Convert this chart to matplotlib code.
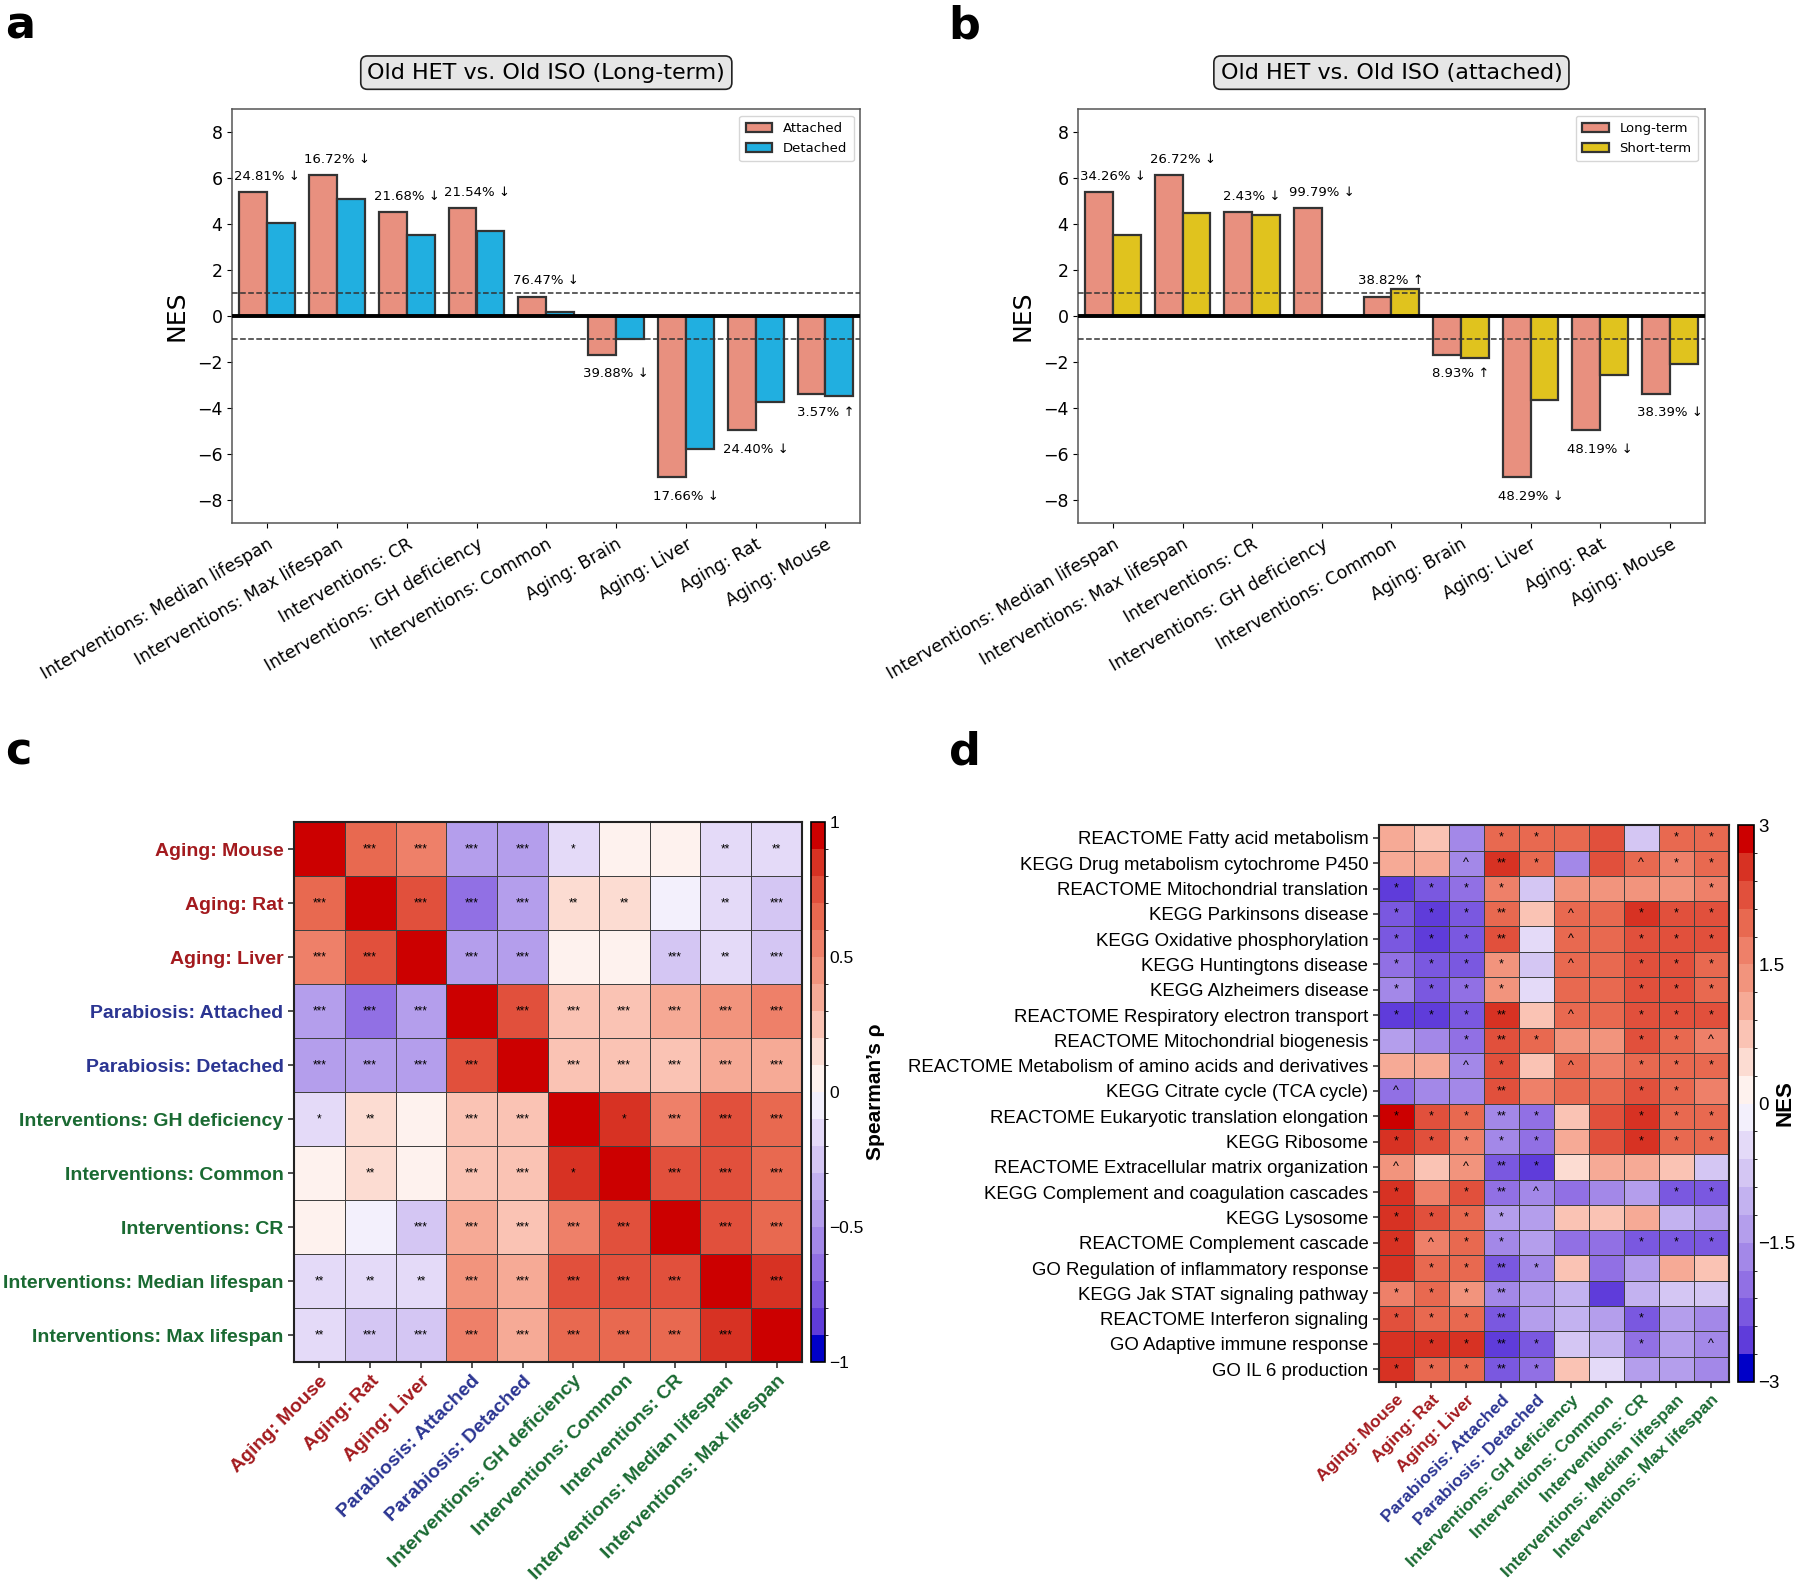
import numpy as np
import matplotlib
matplotlib.use("Agg")
import matplotlib.pyplot as plt
from matplotlib.colors import ListedColormap, BoundaryNorm

# ---------------- data: panels a / b ----------------
bar_categories = ["Interventions: Median lifespan", "Interventions: Max lifespan",
                  "Interventions: CR", "Interventions: GH deficiency",
                  "Interventions: Common", "Aging: Brain", "Aging: Liver",
                  "Aging: Rat", "Aging: Mouse"]
attached_nes = [5.39, 6.12, 4.52, 4.70, 0.85, -1.68, -7.00, -4.96, -3.36]
detached_nes = [4.05, 5.10, 3.54, 3.69, 0.20, -1.01, -5.76, -3.75, -3.48]
pct_change_a = ["24.81% ↓", "16.72% ↓", "21.68% ↓", "21.54% ↓", "76.47% ↓",
                "39.88% ↓", "17.66% ↓", "24.40% ↓", "3.57% ↑"]
long_term_nes = [5.39, 6.12, 4.52, 4.70, 0.85, -1.68, -7.00, -4.96, -3.36]
short_term_nes = [3.54, 4.48, 4.41, 0.01, 1.18, -1.83, -3.62, -2.57, -2.07]
pct_change_b = ["34.26% ↓", "26.72% ↓", "2.43% ↓", "99.79% ↓", "38.82% ↑",
                "8.93% ↑", "48.29% ↓", "48.19% ↓", "38.39% ↓"]

# ---------------- data: panel c ----------------
corr_labels = ["Aging: Mouse", "Aging: Rat", "Aging: Liver",
               "Parabiosis: Attached", "Parabiosis: Detached",
               "Interventions: GH deficiency", "Interventions: Common",
               "Interventions: CR", "Interventions: Median lifespan",
               "Interventions: Max lifespan"]
spearman_rho = [
    [1.00, 0.65, 0.55, -0.45, -0.45, -0.12, 0.03, 0.02, -0.15, -0.15],
    [0.65, 1.00, 0.75, -0.62, -0.45, 0.15, 0.15, -0.05, -0.15, -0.28],
    [0.55, 0.75, 1.00, -0.48, -0.45, 0.05, 0.05, -0.25, -0.15, -0.28],
    [-0.45, -0.62, -0.48, 1.00, 0.72, 0.25, 0.25, 0.35, 0.42, 0.55],
    [-0.45, -0.45, -0.45, 0.72, 1.00, 0.25, 0.25, 0.25, 0.35, 0.38],
    [-0.12, 0.15, 0.05, 0.25, 0.25, 1.00, 0.82, 0.55, 0.78, 0.65],
    [0.03, 0.15, 0.05, 0.25, 0.25, 0.82, 1.00, 0.78, 0.75, 0.65],
    [0.02, -0.05, -0.25, 0.35, 0.25, 0.55, 0.78, 1.00, 0.72, 0.65],
    [-0.15, -0.15, -0.15, 0.42, 0.35, 0.78, 0.75, 0.72, 1.00, 0.85],
    [-0.15, -0.28, -0.28, 0.55, 0.38, 0.65, 0.65, 0.65, 0.85, 1.00],
]
rho_sig = [
    ["", "***", "***", "***", "***", "*", "", "", "**", "**"],
    ["***", "", "***", "***", "***", "**", "**", "", "**", "***"],
    ["***", "***", "", "***", "***", "", "", "***", "**", "***"],
    ["***", "***", "***", "", "***", "***", "***", "***", "***", "***"],
    ["***", "***", "***", "***", "", "***", "***", "***", "***", "***"],
    ["*", "**", "", "***", "***", "", "*", "***", "***", "***"],
    ["", "**", "", "***", "***", "*", "", "***", "***", "***"],
    ["", "", "***", "***", "***", "***", "***", "", "***", "***"],
    ["**", "**", "**", "***", "***", "***", "***", "***", "", "***"],
    ["**", "***", "***", "***", "***", "***", "***", "***", "***", ""],
]

# ---------------- data: panel d ----------------
pathways = ["REACTOME Fatty acid metabolism", "KEGG Drug metabolism cytochrome P450",
            "REACTOME Mitochondrial translation", "KEGG Parkinsons disease",
            "KEGG Oxidative phosphorylation", "KEGG Huntingtons disease",
            "KEGG Alzheimers disease", "REACTOME Respiratory electron transport",
            "REACTOME Mitochondrial biogenesis",
            "REACTOME Metabolism of amino acids and derivatives",
            "KEGG Citrate cycle (TCA cycle)", "REACTOME Eukaryotic translation elongation",
            "KEGG Ribosome", "REACTOME Extracellular matrix organization",
            "KEGG Complement and coagulation cascades", "KEGG Lysosome",
            "REACTOME Complement cascade", "GO Regulation of inflammatory response",
            "KEGG Jak STAT signaling pathway", "REACTOME Interferon signaling",
            "GO Adaptive immune response", "GO IL 6 production"]
pathway_nes = [
    [1.05, 0.75, -1.65, 1.95, 1.95, 1.90, 2.20, -0.75, 1.90, 1.90],
    [1.05, 1.05, -1.65, 2.50, 1.95, -1.65, 2.20, 1.90, 1.70, 1.90],
    [-2.55, -2.25, -2.00, 1.75, -0.75, 1.35, 1.35, 1.30, 1.45, 1.75],
    [-2.25, -2.50, -2.25, 1.95, 0.70, 1.95, 2.00, 2.40, 2.25, 2.20],
    [-2.30, -2.50, -2.25, 2.10, -0.45, 2.05, 2.05, 2.25, 2.25, 2.25],
    [-1.95, -2.35, -2.20, 1.40, -0.75, 1.95, 1.80, 2.25, 2.20, 2.05],
    [-1.65, -2.30, -1.95, 1.40, -0.45, 1.80, 1.80, 2.25, 2.20, 2.05],
    [-2.55, -2.50, -2.30, 2.55, 0.85, 1.95, 1.95, 2.35, 2.25, 2.20],
    [-1.35, -1.65, -1.90, 2.15, 1.85, 1.35, 1.35, 2.20, 1.95, 1.75],
    [1.05, 1.05, -1.60, 2.15, 0.85, 1.80, 1.65, 1.95, 1.85, 1.85],
    [-1.90, -1.60, -1.60, 2.15, 1.65, 1.80, 1.95, 2.25, 1.80, 1.65],
    [2.85, 2.15, 1.85, -1.60, -2.00, 0.80, 2.25, 2.55, 1.95, 1.95],
    [2.55, 2.15, 1.65, -1.65, -1.95, 1.15, 2.30, 2.55, 1.95, 1.95],
    [1.40, 0.75, 1.40, -2.30, -2.50, 0.50, 0.95, 0.95, 0.65, -0.80],
    [2.50, 1.60, 2.20, -2.10, -1.70, -1.90, -1.65, -1.40, -2.25, -2.40],
    [2.55, 2.15, 1.95, -1.50, -1.45, 0.85, 0.85, 1.05, -1.05, -1.30],
    [2.45, 1.60, 2.05, -1.60, -1.45, -2.00, -2.00, -2.30, -2.30, -2.30],
    [2.40, 1.95, 1.80, -2.20, -1.80, 0.80, -1.85, -1.45, 1.10, 0.75],
    [1.60, 1.95, 1.40, -1.80, -1.35, -1.00, -2.65, -1.05, -0.80, -0.85],
    [2.30, 2.05, 1.95, -2.25, -1.40, -1.15, -1.40, -2.30, -1.50, -1.65],
    [2.65, 2.40, 2.40, -2.50, -2.20, -0.80, -1.00, -1.90, -1.40, -1.60],
    [2.45, 1.95, 1.95, -2.40, -2.00, 0.80, -0.50, -1.35, -1.35, -1.55],
]
pathway_sig = [
    ["", "", "", "*", "*", "", "", "", "*", "*"],
    ["", "", "^", "**", "*", "", "", "^", "*", "*"],
    ["*", "*", "*", "*", "", "", "", "", "", "*"],
    ["*", "*", "*", "**", "", "^", "", "*", "*", "*"],
    ["*", "*", "*", "**", "", "^", "", "*", "*", "*"],
    ["*", "*", "*", "*", "", "^", "", "*", "*", "*"],
    ["*", "*", "*", "*", "", "", "", "*", "*", "*"],
    ["*", "*", "*", "**", "", "^", "", "*", "*", "*"],
    ["", "", "*", "**", "*", "", "", "*", "*", "^"],
    ["", "", "^", "*", "", "^", "", "*", "*", "*"],
    ["^", "", "", "**", "", "", "", "*", "*", ""],
    ["*", "*", "*", "**", "*", "", "", "*", "*", "*"],
    ["*", "*", "*", "*", "*", "", "", "*", "*", "*"],
    ["^", "", "^", "**", "*", "", "", "", "", ""],
    ["*", "", "*", "**", "^", "", "", "", "*", "*"],
    ["*", "*", "*", "*", "", "", "", "", "", ""],
    ["*", "^", "*", "*", "", "", "", "*", "*", "*"],
    ["", "*", "*", "**", "*", "", "", "", "", ""],
    ["*", "*", "*", "**", "", "", "", "", "", ""],
    ["*", "*", "*", "**", "", "", "", "*", "", ""],
    ["", "*", "*", "**", "*", "", "", "*", "", "^"],
    ["*", "*", "*", "**", "*", "", "", "", "", ""],
]

# ---------------- styles ----------------
group_colors = {"Aging": "#A31A1E", "Parabiosis": "#2B3592", "Interventions": "#1A6A32"}
heat_colors = ["#0000C8", "#5F3CDA", "#7A58E0", "#9170E4", "#A388E8", "#B49EEC",
               "#C3B2F0", "#D4C6F3", "#E4DAF8", "#F3F0FC",
               "#FEF2EE", "#FCDCD2", "#FAC3B4", "#F6AA96", "#F2947D", "#EE8069",
               "#E86950", "#E1503C", "#D73223", "#CC0000"]
cmap = ListedColormap(heat_colors)
cmap.set_over(heat_colors[-1])
cmap.set_under(heat_colors[0])

SALMON = "#E8907F"
BLUE = "#21AFE0"
YELLOW = "#E0C31E"
EDGE = "#333333"

fig = plt.figure(figsize=(18, 15.81), dpi=100)


def bar_panel(ax, title, s1, s2, c2, names, pct):
    x = np.arange(len(bar_categories))
    w = 0.4
    ax.bar(x - w / 2, s1, w, color=SALMON, edgecolor=EDGE, linewidth=1.6, label=names[0], zorder=2)
    ax.bar(x + w / 2, s2, w, color=c2, edgecolor=EDGE, linewidth=1.6, label=names[1], zorder=2)
    ax.axhline(0, color="black", linewidth=2.8, zorder=3)
    ax.axhline(1, color=EDGE, linewidth=1.1, linestyle="--", zorder=4)
    ax.axhline(-1, color=EDGE, linewidth=1.1, linestyle="--", zorder=4)
    for xi, v, t in zip(x, s1, pct):
        y = v + 0.68 if v >= 0 else v - 0.82
        ax.text(xi, y, t, ha="center", va="center", fontsize=9.5)
    ax.set_xlim(-0.5, len(bar_categories) - 0.5)
    ax.set_ylim(-9, 9)
    ax.set_yticks(np.arange(-8, 9, 2))
    ax.set_xticks(x)
    ax.set_xticklabels(bar_categories, rotation=30, ha="right", rotation_mode="anchor", fontsize=12.5)
    ax.tick_params(axis="y", labelsize=12.5)
    ax.tick_params(axis="x", pad=5)
    ax.set_ylabel("NES", fontsize=18, labelpad=6)
    for sp in ax.spines.values():
        sp.set_color("#555555")
        sp.set_linewidth(1.1)
    ax.legend(loc="upper right", fontsize=9.5, frameon=True, borderpad=0.5,
              handlelength=2.0, edgecolor="#cccccc")
    ax.text(0.5, 1.088, title, transform=ax.transAxes, ha="center", va="center", fontsize=16,
            bbox=dict(boxstyle="round,pad=0.3", facecolor="#E6E6E6", edgecolor="#222222", linewidth=1.2))


axa = fig.add_axes([0.129, 0.669, 0.349, 0.262])
bar_panel(axa, "Old HET vs. Old ISO (Long-term)", attached_nes, detached_nes, BLUE,
          ["Attached", "Detached"], pct_change_a)
axb = fig.add_axes([0.599, 0.669, 0.348, 0.262])
bar_panel(axb, "Old HET vs. Old ISO (attached)", long_term_nes, short_term_nes, YELLOW,
          ["Long-term", "Short-term"], pct_change_b)

ARIAL = "Liberation Sans"


def heat_panel(ax, cax, data, sig, rows, cols, vmin, vmax, ticks, ticklabels,
               colored_rows, row_fs, col_fs, ann_fs, cbar_fs):
    data = np.array(data)
    norm = BoundaryNorm(np.linspace(vmin, vmax, 21), cmap.N)
    m = ax.pcolormesh(data, cmap=cmap, norm=norm, edgecolors="#404040", linewidth=0.6)
    nr, nc = data.shape
    ax.set_xlim(0, nc)
    ax.set_ylim(nr, 0)
    for i in range(nr):
        for j in range(nc):
            if sig[i][j]:
                ax.text(j + 0.5, i + 0.5, sig[i][j], ha="center", va="center",
                        fontsize=ann_fs, family=ARIAL, color="black")
    ax.set_xticks(np.arange(nc) + 0.5)
    ax.set_yticks(np.arange(nr) + 0.5)
    xl = ax.set_xticklabels(cols, rotation=45, ha="right", rotation_mode="anchor",
                            fontsize=col_fs, family=ARIAL, fontweight="bold")
    for t, name in zip(xl, cols):
        t.set_color(group_colors[name.split(":")[0]])
    if colored_rows:
        yl = ax.set_yticklabels(rows, fontsize=row_fs, family=ARIAL, fontweight="bold")
        for t, name in zip(yl, rows):
            t.set_color(group_colors[name.split(":")[0]])
    else:
        ax.set_yticklabels(rows, fontsize=row_fs, family=ARIAL)
    ax.tick_params(length=4, width=1.2, color="#333333")
    for sp in ax.spines.values():
        sp.set_linewidth(1.5)
        sp.set_color("#222222")
    cb = fig.colorbar(m, cax=cax, ticks=ticks)
    cb.ax.set_yticklabels(ticklabels, family=ARIAL, fontsize=cbar_fs)
    cb.ax.tick_params(length=0, pad=3)
    cb.outline.set_linewidth(1.2)
    return cb


axc = fig.add_axes([0.1633, 0.1385, 0.2822, 0.3415])
caxc = fig.add_axes([0.4506, 0.1385, 0.0078, 0.3415])
cbc = heat_panel(axc, caxc, spearman_rho, rho_sig, corr_labels, corr_labels, -1, 1,
                 [-1, -0.5, 0, 0.5, 1], ["\u22121", "\u22120.5", "0", "0.5", "1"],
                 True, 14, 14, 8.5, 12.5)
cbc.set_label("Spearman\u2019s \u03c1", family=ARIAL, fontweight="bold", fontsize=15, labelpad=2)

axd = fig.add_axes([0.766, 0.1259, 0.1944, 0.3521])
caxd = fig.add_axes([0.9656, 0.1259, 0.0089, 0.3521])
heat_panel(axd, caxd, pathway_nes, pathway_sig, pathways, corr_labels, -3, 3,
           [-3, -1.5, 0, 1.5, 3], ["\u22123", "\u22121.5", "0", "1.5", "3"],
           False, 13.4, 12.5, 9, 13.5)
fig.text(0.9915, 0.302, "NES", rotation=90, ha="center", va="center", family=ARIAL,
         fontweight="bold", fontsize=16)

for lbl, xx, yy in [("a", 0.003, 0.997), ("b", 0.527, 0.997), ("c", 0.003, 0.538), ("d", 0.527, 0.538)]:
    fig.text(xx, yy, lbl, fontsize=32, fontweight="bold", va="top", ha="left")

fig.savefig("out.png", dpi=100)
